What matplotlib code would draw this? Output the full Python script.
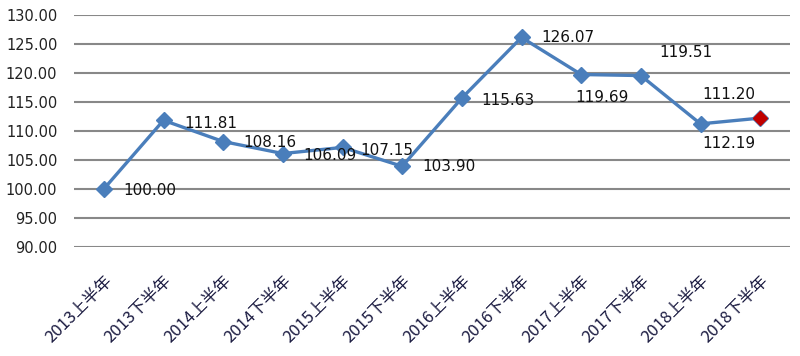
import matplotlib
matplotlib.use("Agg")
import matplotlib.pyplot as plt

plt.rcParams["font.family"] = ["Noto Sans CJK SC", "DejaVu Sans"]

periods = ["2013上半年", "2013下半年", "2014上半年", "2014下半年", "2015上半年", "2015下半年",
           "2016上半年", "2016下半年", "2017上半年", "2017下半年", "2018上半年", "2018下半年"]
values = [100.00, 111.81, 108.16, 106.09, 107.15, 103.90,
          115.63, 126.07, 119.69, 119.51, 111.20, 112.19]
# label offsets in pixels (dx, dy)
label_offsets = [(46, -2), (47, -3), (47, -1), (47, -2), (44, -3), (47, 0),
                 (46, -2), (46, 0), (21, -23), (45, 23), (28, 29), (-31, -25)]

blue = "#4A7EBB"

fig = plt.figure(figsize=(8, 3.56), dpi=100)
ax = fig.add_axes([0.0925, 0.306, 0.895, 0.653])

x = list(range(len(periods)))
ax.plot(x, values, color=blue, lw=2.4, marker="D", ms=8, mfc=blue, mec=blue, zorder=3)
ax.plot(x[-1], values[-1], marker="D", ms=7, color="#C00000", zorder=4)

for xi, v, (dx, dy) in zip(x, values, label_offsets):
    ax.annotate(f"{v:.2f}", (xi, v), textcoords="offset pixels", xytext=(dx, dy),
                ha="center", va="center", fontsize=11, color="#111111",
                family=["DejaVu Sans"])

ax.set_xlim(-0.5, len(periods) - 0.5)
ax.set_ylim(90, 130)
ax.set_yticks(range(90, 131, 5))
ax.set_yticklabels([f"{t:.2f}" for t in range(90, 131, 5)], fontsize=10.5, color="#222222",
                   family=["DejaVu Sans"])
ax.yaxis.grid(True, color="#888888", lw=1.5)
ax.set_axisbelow(True)
for s in ax.spines.values():
    s.set_visible(False)
ax.tick_params(length=0)
ax.tick_params(axis="y", pad=12)

ax.set_xticks(x)
ax.set_xticklabels(periods, rotation=45, ha="right", va="top", rotation_mode="anchor",
                   fontsize=12, color="#1a1a40")
ax.tick_params(axis="x", pad=18)

fig.savefig("out.png", dpi=100)
